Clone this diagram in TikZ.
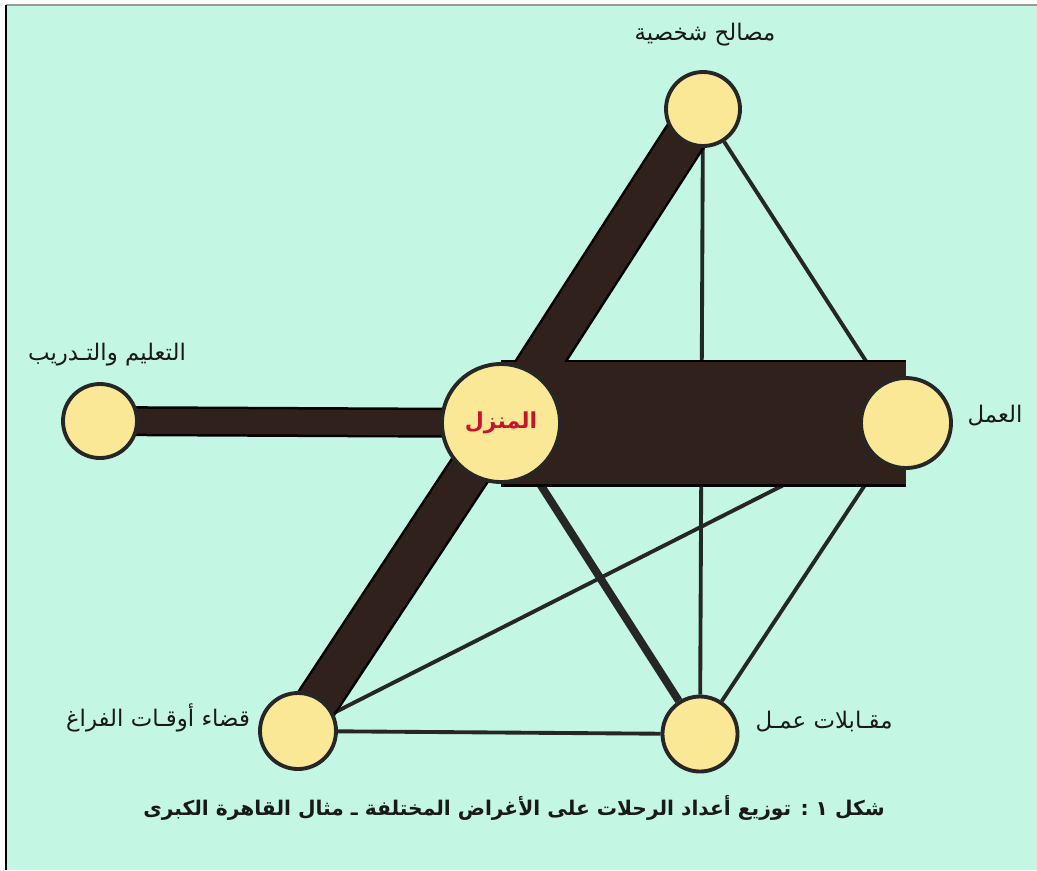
\documentclass[tikz,border=0pt]{standalone}
\usepackage{fontspec}
\newfontfamily\arabicfont[Script=Arabic]{DejaVu Sans}
\TeXXeTstate=1
\usetikzlibrary{positioning}

\definecolor{mint}{RGB}{195,247,228}
\definecolor{pale}{RGB}{250,232,150}
\definecolor{soil}{RGB}{48,33,28}
\definecolor{homered}{RGB}{200,18,48}

\pgfdeclarelayer{bg}
\pgfdeclarelayer{links}
\pgfsetlayers{bg,links,main}

\begin{document}
\begin{tikzpicture}[
  x=0.02cm, y=-0.02cm,
  spot/.style={circle,draw=black!85,line width=2.2pt,fill=pale,inner sep=0pt},
  tag/.style={font=\arabicfont\fontsize{13}{15}\selectfont,text=black!90},
  link/.style={draw=black!85,line width=2.2pt},
  bandedge/.style={draw=black,line width={#1*0.02cm}},
  bandcore/.style={draw=soil,line width={(#1-5)*0.02cm}}
]
\useasboundingbox (0,0) rectangle (1037,870);

% the six trip purposes
\node[spot, minimum size=118*0.02cm] (home) at (501,423)
  {\arabicfont\bfseries\fontsize{12.5}{15}\selectfont\color{homered}\beginR المنزل\endR};
\node[spot, minimum size=90*0.02cm] (work) at (906,423) {};
\node[spot, minimum size=74*0.02cm] (personal) at (703,109) {};
\node[spot, minimum size=74*0.02cm] (edu) at (100,421) {};
\node[spot, minimum size=76*0.02cm] (leisure) at (298,731) {};
\node[spot, minimum size=75*0.02cm] (interview) at (700,734) {};

\node[tag] (personaltag) at (705,35) {\beginR مصالح شخصية\endR};
\node[tag] (edutag) at (107,355) {\beginR التعليم والتـدريب\endR};
\node[tag] (worktag) at (995,416) {\beginR العمل\endR};
\node[tag] (leisuretag) at (158,718) {\beginR قضاء أوقـات الفراغ\endR};
\node[tag] (interviewtag) at (824,722) {\beginR مقـابلات عمـل\endR};
\node[tag, font=\arabicfont\bfseries\fontsize{11.5}{14}\selectfont] (caption) at (514,808)
  {\beginR شكل ١ : توزيع أعداد الرحلات على الأغراض المختلفة ـ مثال القاهرة الكبرى\endR};

\begin{pgfonlayer}{bg}
  \fill[white] (0,0) rectangle (1037,870);
  \fill[mint] (6,5) rectangle (1037,870);
  \draw[black!40, line width=1.2pt] (6,5) -- (1037,5);
  \draw[black, line width=1.2pt] (6,5) -- (6,870);
\end{pgfonlayer}

\begin{pgfonlayer}{links}
  % thin links
  \draw[link] (personal) -- (work);
  \draw[link] (personal) -- (interview);
  \draw[link] (leisure) -- (work);
  \draw[link] (leisure) -- (interview);
  \draw[link] (work) -- (interview);
  \draw[link, line width=4.5pt] (home) -- (interview);
  % heavy flows out of home
  \foreach \to/\w in {work/127, personal/45, leisure/45, edu/30}
    \draw[bandedge=\w] (home.center) -- (\to.center);
  \foreach \to/\w in {work/127, personal/45, leisure/45, edu/30}
    \draw[bandcore=\w] (home.center) -- (\to.center);
\end{pgfonlayer}
\end{tikzpicture}
\end{document}
